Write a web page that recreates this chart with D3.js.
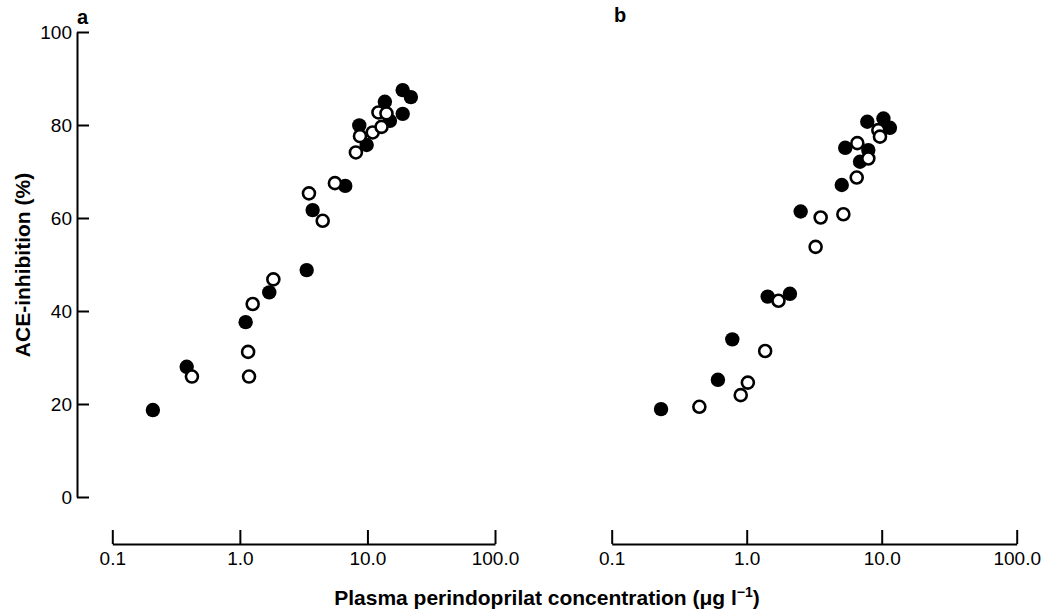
<!DOCTYPE html>
<html>
<head>
<meta charset="utf-8">
<script src="https://cdn.jsdelivr.net/npm/d3@7"></script>
<style>
  body { margin: 0; background: #fff; }
  svg { display: block; font-family: "Liberation Sans", Arial, Helvetica, sans-serif; }
  .axis path, .axis line { stroke: #000; stroke-width: 2; }
  .axis text { font-size: 19px; fill: #000; font-family: "Liberation Sans", Arial, sans-serif; }
</style>
</head>
<body>
<svg id="chart" width="1049" height="614"></svg>
<script>
////////////////////////////////////////////////////////////////////////////////
// Data (concentration in ug/l, ACE-inhibition in %)

// panel a
var aFilledX = [0.208, 0.383, 1.11, 1.70, 3.34, 3.72, 6.70, 9.86, 8.63, 15.0, 13.7, 18.9, 18.9, 21.9];
var aFilledY = [18.7, 28.0, 37.6, 44.0, 48.8, 61.7, 66.9, 75.7, 79.9, 80.9, 85.0, 82.4, 87.5, 86.0];
var aOpenX   = [0.421, 1.16, 1.18, 1.26, 1.83, 3.48, 4.46, 5.56, 8.12, 8.74, 11.0, 12.9, 12.2, 14.1];
var aOpenY   = [25.9, 31.2, 25.9, 41.5, 46.8, 65.3, 59.4, 67.5, 74.1, 77.6, 78.4, 79.6, 82.7, 82.5];

// panel b
var bFilledX = [0.232, 0.612, 0.782, 1.43, 2.09, 2.51, 5.06, 5.37, 6.91, 7.96, 7.82, 10.3, 11.5];
var bFilledY = [18.9, 25.2, 33.9, 43.1, 43.7, 61.4, 67.1, 75.1, 72.1, 74.6, 80.7, 81.4, 79.4];
var bOpenX   = [0.446, 0.903, 1.02, 1.37, 1.72, 3.24, 3.53, 5.2, 6.53, 6.6, 7.96, 9.44, 9.71];
var bOpenY   = [19.4, 21.9, 24.6, 31.4, 42.2, 53.8, 60.1, 60.8, 68.7, 76.1, 72.8, 78.9, 77.5];

var xTicks = [0.1, 1, 10, 100];
var xTickLabels = ['0.1', '1.0', '10.0', '100.0'];
var yTicks = [0, 20, 40, 60, 80, 100];

////////////////////////////////////////////////////////////////////////////////
var svg = d3.select('#chart');

var yy = d3.scaleLinear().domain([0, 100]).range([497, 32]);
var xAxisY = 544;

function zip(xs, ys) {
	return xs.map(function(x, i) { return {x: x, y: ys[i]}; });
}

// y axis (only on the left panel), ticks pointing inwards
svg.append('g')
	.attr('class', 'axis')
	.attr('transform', 'translate(77,0)')
	.call(d3.axisLeft(yy).tickValues(yTicks).tickSizeInner(-12).tickSizeOuter(0).tickPadding(5))
	.selectAll('text').attr('dy', '0.36em');

// Draw one panel
function draw_panel(x0, x1, filled, open, letter) {
	var xx = d3.scaleLog().domain([0.1, 100]).range([x0, x1]);

	svg.append('g')
		.attr('class', 'axis')
		.attr('transform', 'translate(0,' + xAxisY + ')')
		.call(d3.axisBottom(xx)
			.tickValues(xTicks)
			.tickSizeInner(-14)
			.tickSizeOuter(0)
			.tickPadding(8)
			.tickFormat(function(d, i) { return xTickLabels[i]; }))
		.selectAll('text').attr('dy', '0.71em');

	// filled circles first, open circles on top
	svg.append('g').selectAll('circle')
		.data(filled)
		.enter().append('circle')
		.attr('cx', function(d) { return xx(d.x); })
		.attr('cy', function(d) { return yy(d.y); })
		.attr('r', 7.2)
		.attr('fill', '#000');

	svg.append('g').selectAll('circle')
		.data(open)
		.enter().append('circle')
		.attr('cx', function(d) { return xx(d.x); })
		.attr('cy', function(d) { return yy(d.y); })
		.attr('r', 6)
		.attr('fill', '#fff')
		.attr('stroke', '#000')
		.attr('stroke-width', 2.6);

	svg.append('text')
		.attr('x', letter.x)
		.attr('y', letter.y)
		.style('font-size', '20px')
		.style('font-weight', 'bold')
		.text(letter.t);
}

draw_panel(112.3, 495, zip(aFilledX, aFilledY), zip(aOpenX, aOpenY), {t: 'a', x: 77, y: 24});
draw_panel(611.7, 1016.7, zip(bFilledX, bFilledY), zip(bOpenX, bOpenY), {t: 'b', x: 614, y: 22});

// Axis titles
var xt = svg.append('text')
	.attr('x', 547)
	.attr('y', 605)
	.attr('text-anchor', 'middle')
	.style('font-size', '21px')
	.style('font-weight', 'bold');
xt.append('tspan').text('Plasma perindoprilat concentration (\u03BCg l');
xt.append('tspan').attr('dy', '-8').style('font-size', '14px').text('\u22121');
xt.append('tspan').attr('dy', '8').text(')');

svg.append('text')
	.attr('transform', 'translate(30,265) rotate(-90)')
	.attr('text-anchor', 'middle')
	.style('font-size', '21px')
	.style('font-weight', 'bold')
	.text('ACE-inhibition (%)');
</script>
</body>
</html>
